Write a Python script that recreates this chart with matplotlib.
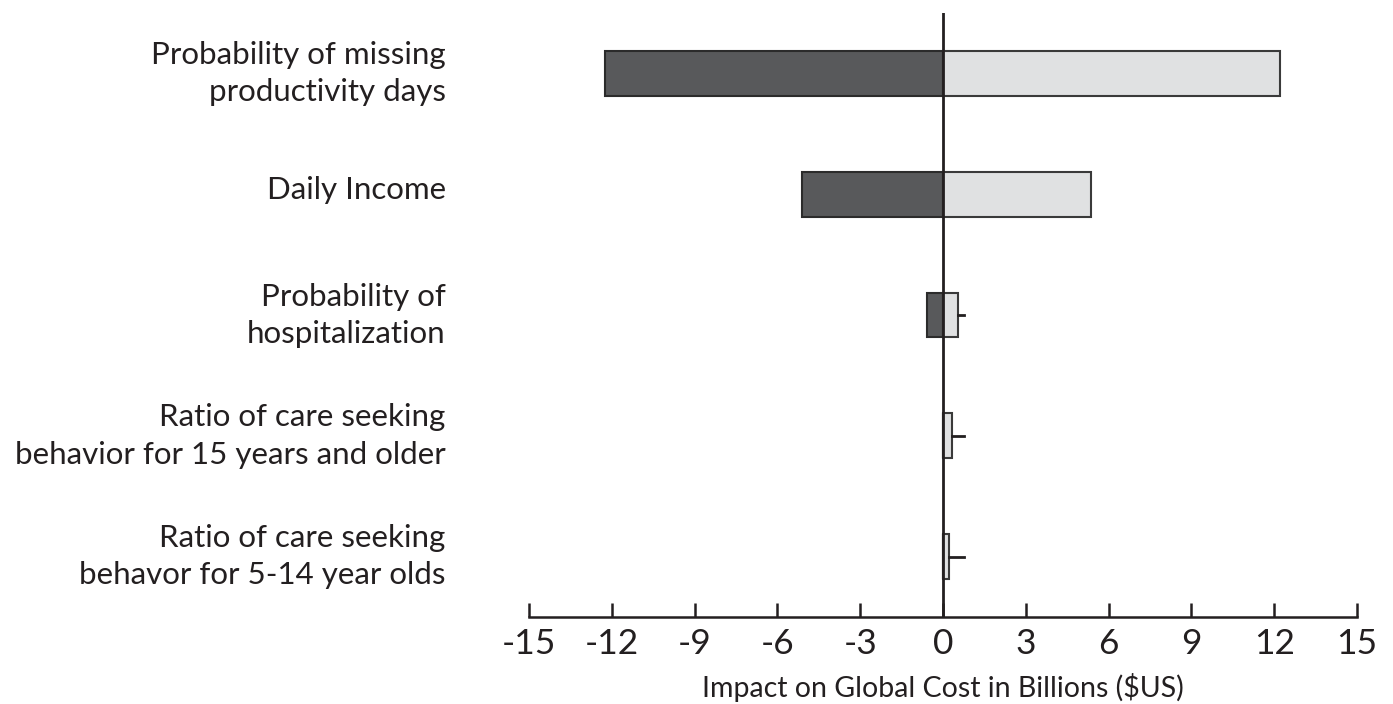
import matplotlib.pyplot as plt
import matplotlib.transforms as mtransforms

categories = [
    "Probability of missing\nproductivity days",
    "Daily Income",
    "Probability of\nhospitalization",
    "Ratio of care seeking\nbehavior for 15 years and older",
    "Ratio of care seeking\nbehavor for 5-14 year olds",
]
low_values = [-12.25, -5.1, -0.6, 0.0, 0.0]
high_values = [12.2, 5.35, 0.55, 0.32, 0.2]
marker_end = [None, None, 0.75, 0.75, 0.75]
xticks = [-15, -12, -9, -6, -3, 0, 3, 6, 9, 12, 15]

plt.rcParams["font.family"] = ["Lato", "DejaVu Sans"]

fig = plt.figure(figsize=(13.93, 7.04), dpi=100)
ax = fig.add_axes([0.3798, 0.1236, 0.5944, 0.8579])

pos = list(range(len(categories)))
ax.barh(pos, low_values, height=0.37, color="#58595b", edgecolor="#2b2b2b", linewidth=1.5)
ax.barh(pos, high_values, height=0.37, color="#e0e1e2", edgecolor="#3a3a3a", linewidth=1.5)

# small marks to the right of the tiny bars
for p, hv, me in zip(pos, high_values, marker_end):
    if me is not None:
        ax.plot([hv, me], [p, p], color="#231f20", lw=2)

ax.axvline(0, color="#231f20", lw=2)

ax.set_xlim(-15, 15)
ax.set_ylim(4.5, -0.5)
ax.set_xticks(xticks)
ax.set_xticklabels([str(t) for t in xticks], fontsize=25.5)
ax.tick_params(axis="x", direction="in", length=10, width=1.8, pad=8, colors="#231f20")
ax.set_yticks(pos)
ax.set_yticklabels(categories, fontsize=22.5, ha="right", color="#231f20", linespacing=1.4)
ax.tick_params(axis="y", length=0, pad=60)

# nudge category labels up a little
shift = mtransforms.ScaledTranslation(0, 5 / 72, fig.dpi_scale_trans)
for lbl in ax.get_yticklabels():
    lbl.set_transform(lbl.get_transform() + shift)

for s in ["left", "right", "top"]:
    ax.spines[s].set_visible(False)
ax.spines["bottom"].set_linewidth(1.8)
ax.spines["bottom"].set_color("#231f20")

ax.set_xlabel("Impact on Global Cost in Billions ($US)", fontsize=20.5, color="#231f20", labelpad=9)

fig.savefig("out.png", dpi=100)
